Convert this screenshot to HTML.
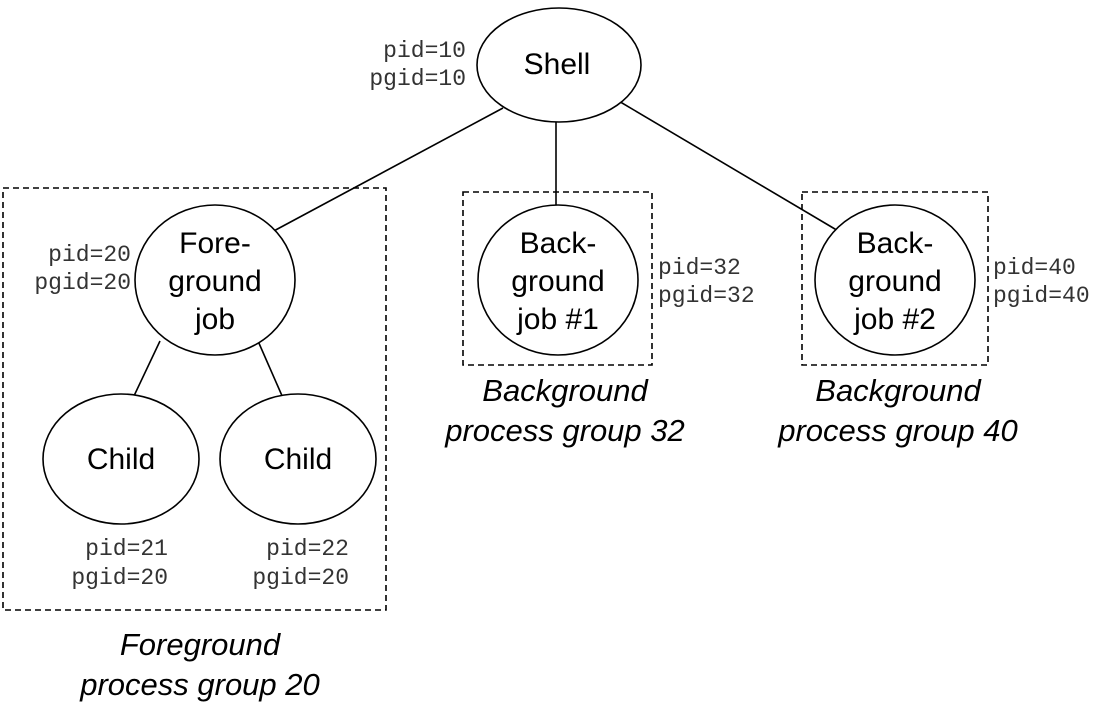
<!DOCTYPE html>
<html><head><style>
html,body{margin:0;padding:0;background:#fff;}
svg{display:block;}
.m{font-family:"Liberation Mono",monospace;font-size:23px;fill:#333;}
.n{font-family:"Liberation Sans",sans-serif;font-size:30px;fill:#000;}
.i{font-family:"Liberation Sans",sans-serif;font-size:31px;font-style:italic;fill:#000;}
</style></head><body>
<svg width="1110" height="722" viewBox="0 0 1110 722">
<g fill="none" stroke="#000" stroke-width="1.6">
<rect x="3" y="188" width="383" height="422" stroke-dasharray="6,4"/>
<rect x="463" y="192" width="189" height="173" stroke-dasharray="6,4"/>
<rect x="802" y="192" width="186" height="173" stroke-dasharray="6,4"/>
<line x1="503" y1="108" x2="270" y2="233"/>
<line x1="556" y1="122" x2="556" y2="206"/>
<line x1="617" y1="100" x2="840" y2="232"/>
<line x1="160" y1="341" x2="133" y2="398"/>
<line x1="258" y1="341" x2="283" y2="398"/>
<ellipse cx="559" cy="65" rx="82" ry="57" fill="#fff"/>
<ellipse cx="215" cy="280" rx="80" ry="75" fill="#fff"/>
<ellipse cx="558" cy="280" rx="80" ry="75" fill="#fff"/>
<ellipse cx="895" cy="280" rx="80" ry="75" fill="#fff"/>
<ellipse cx="121" cy="459" rx="78" ry="65" fill="#fff"/>
<ellipse cx="298" cy="459" rx="78" ry="65" fill="#fff"/>
</g>
<g text-anchor="middle">
<text x="557" y="74" class="n">Shell</text>
<text x="215" y="253" class="n">Fore-</text><text x="215" y="291" class="n">ground</text><text x="215" y="329" class="n">job</text>
<text x="558" y="253" class="n">Back-</text><text x="558" y="291" class="n">ground</text><text x="558" y="329" class="n">job #1</text>
<text x="895" y="253" class="n">Back-</text><text x="895" y="291" class="n">ground</text><text x="895" y="329" class="n">job #2</text>
<text x="121" y="469" class="n">Child</text>
<text x="298" y="469" class="n">Child</text>
<text x="565" y="401" class="i">Background</text><text x="565" y="441" class="i">process group 32</text>
<text x="898" y="401" class="i">Background</text><text x="898" y="441" class="i">process group 40</text>
<text x="200" y="655" class="i">Foreground</text><text x="200" y="695" class="i">process group 20</text>
</g>
<g text-anchor="end">
<text x="466" y="57" class="m">pid=10</text><text x="466" y="85" class="m">pgid=10</text>
<text x="131" y="261" class="m">pid=20</text><text x="131" y="289" class="m">pgid=20</text>
<text x="168" y="555" class="m">pid=21</text><text x="168" y="584" class="m">pgid=20</text>
<text x="349" y="555" class="m">pid=22</text><text x="349" y="584" class="m">pgid=20</text>
</g>
<text x="658" y="274" class="m">pid=32</text><text x="658" y="302" class="m">pgid=32</text>
<text x="993" y="274" class="m">pid=40</text><text x="993" y="302" class="m">pgid=40</text>
</svg>
</body></html>
